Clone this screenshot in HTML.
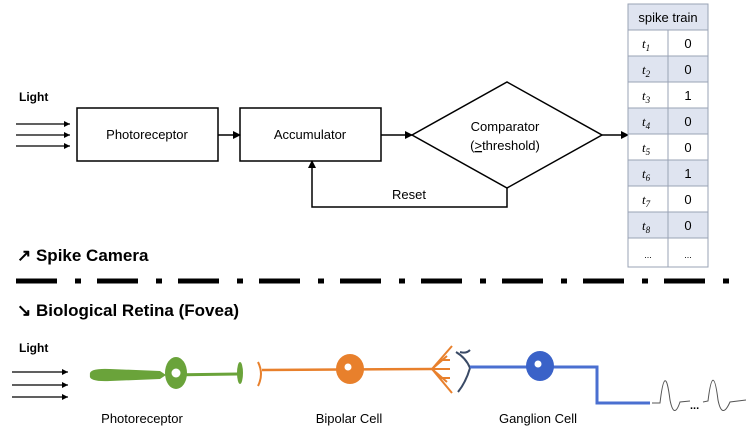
<!DOCTYPE html>
<html><head><meta charset="utf-8"><style>
body{margin:0;background:#fff;}
svg{display:block;font-family:"Liberation Sans",sans-serif;}
</style></head><body>
<svg width="746" height="439" viewBox="0 0 746 439" xmlns="http://www.w3.org/2000/svg">
<defs>
<marker id="a" markerWidth="8" markerHeight="8" refX="7" refY="4" orient="auto" markerUnits="userSpaceOnUse"><path d="M0,0 L8,4 L0,8z" fill="#000"/></marker>
<marker id="s" markerWidth="6" markerHeight="6" refX="6" refY="3" orient="auto" markerUnits="userSpaceOnUse"><path d="M0,0 L6,3 L0,6z" fill="#000"/></marker>
</defs>
<text x="19" y="101" font-size="12" font-weight="bold">Light</text>
<g stroke="#000" stroke-width="1.2" marker-end="url(#s)">
<line x1="16" y1="124" x2="70" y2="124"/><line x1="16" y1="135" x2="70" y2="135"/><line x1="16" y1="146" x2="70" y2="146"/>
</g>
<rect x="77" y="108" width="141" height="53" fill="none" stroke="#000" stroke-width="1.5"/>
<text x="147" y="139" font-size="13" text-anchor="middle">Photoreceptor</text>
<rect x="240" y="108" width="141" height="53" fill="none" stroke="#000" stroke-width="1.5"/>
<text x="310" y="139" font-size="13" text-anchor="middle">Accumulator</text>
<polygon points="412,135 507,82 602,135 507,188" fill="none" stroke="#000" stroke-width="1.5"/>
<text x="505" y="131" font-size="13" text-anchor="middle">Comparator</text>
<text x="505" y="150" font-size="13" text-anchor="middle">(<tspan text-decoration="underline">&gt;</tspan>threshold)</text>
<g stroke="#000" stroke-width="1.5" fill="none" marker-end="url(#a)">
<line x1="218" y1="135" x2="240" y2="135"/>
<line x1="381" y1="135" x2="412" y2="135"/>
<line x1="602" y1="135" x2="628" y2="135"/>
<polyline points="507,188 507,207 312,207 312,161"/>
</g>
<text x="409" y="199" font-size="13" text-anchor="middle">Reset</text>
<!-- table -->
<g stroke="#9aa3b5" stroke-width="1">
<rect x="628" y="4" width="80" height="263" fill="#fff"/>
<rect x="628" y="4" width="80" height="26" fill="#dfe4f0"/>
<rect x="628" y="56" width="80" height="26" fill="#dfe4f0"/>
<rect x="628" y="108" width="80" height="26" fill="#dfe4f0"/>
<rect x="628" y="160" width="80" height="26" fill="#dfe4f0"/>
<rect x="628" y="212" width="80" height="26" fill="#dfe4f0"/>
<line x1="628" y1="30" x2="708" y2="30"/><line x1="628" y1="82" x2="708" y2="82"/><line x1="628" y1="134" x2="708" y2="134"/><line x1="628" y1="186" x2="708" y2="186"/><line x1="628" y1="238" x2="708" y2="238"/>
<line x1="668" y1="30" x2="668" y2="267"/>
</g>
<text x="668" y="22" font-size="13" text-anchor="middle">spike train</text>
<g font-size="13" text-anchor="middle">
<text x="646" y="48" font-style="italic" font-family="Liberation Serif">t<tspan font-size="9" dy="3">1</tspan></text><text x="688" y="48">0</text>
<text x="646" y="74" font-style="italic" font-family="Liberation Serif">t<tspan font-size="9" dy="3">2</tspan></text><text x="688" y="74">0</text>
<text x="646" y="100" font-style="italic" font-family="Liberation Serif">t<tspan font-size="9" dy="3">3</tspan></text><text x="688" y="100">1</text>
<text x="646" y="126" font-style="italic" font-family="Liberation Serif">t<tspan font-size="9" dy="3">4</tspan></text><text x="688" y="126">0</text>
<text x="646" y="152" font-style="italic" font-family="Liberation Serif">t<tspan font-size="9" dy="3">5</tspan></text><text x="688" y="152">0</text>
<text x="646" y="178" font-style="italic" font-family="Liberation Serif">t<tspan font-size="9" dy="3">6</tspan></text><text x="688" y="178">1</text>
<text x="646" y="204" font-style="italic" font-family="Liberation Serif">t<tspan font-size="9" dy="3">7</tspan></text><text x="688" y="204">0</text>
<text x="646" y="230" font-style="italic" font-family="Liberation Serif">t<tspan font-size="9" dy="3">8</tspan></text><text x="688" y="230">0</text>
<text x="648" y="258" font-size="9">...</text><text x="688" y="258" font-size="9">...</text>
</g>
<text x="17" y="261" font-size="17" font-weight="bold">↗ Spike Camera</text>
<line x1="16" y1="281" x2="740" y2="281" stroke="#000" stroke-width="5" stroke-dasharray="41,18,6,16"/>
<text x="17" y="316" font-size="17" font-weight="bold">↘ Biological Retina (Fovea)</text>
<!-- retina -->
<text x="19" y="352" font-size="12" font-weight="bold">Light</text>
<g stroke="#000" stroke-width="1.2" marker-end="url(#s)">
<line x1="12" y1="372" x2="68" y2="372"/><line x1="12" y1="385" x2="68" y2="385"/><line x1="12" y1="397" x2="68" y2="397"/>
</g>
<path d="M90,375 Q88,368 110,369 L160,371 L166,375 L160,379 L110,381 Q88,382 90,375z" fill="#6aa33a"/>
<line x1="166" y1="375" x2="238" y2="374" stroke="#6aa33a" stroke-width="3"/>
<ellipse cx="176" cy="373" rx="11" ry="16" fill="#6aa33a"/><circle cx="176" cy="373" r="4.5" fill="#fff"/>
<ellipse cx="240" cy="373" rx="3" ry="11" fill="#6aa33a"/>
<path d="M258,362 Q264,374 258,386" stroke="#e8802c" stroke-width="2" fill="none"/>
<line x1="262" y1="370" x2="432" y2="369" stroke="#e8802c" stroke-width="2.5"/>
<ellipse cx="350" cy="369" rx="14" ry="15" fill="#e8802c"/><circle cx="348" cy="367" r="3.5" fill="#fff"/>
<g stroke="#e8802c" stroke-width="2" fill="none">
<path d="M432,369 L452,346 M432,369 L447,356 M432,369 L450,369 M432,369 L447,382 M432,369 L452,393 M440,360 L450,360 M440,378 L450,378"/>
</g>
<g stroke="#3a4a66" stroke-width="2" fill="none">
<path d="M456,352 Q466,358 470,368 Q466,382 458,392"/><path d="M460,352 Q466,354 470,350"/>
</g>
<polyline points="470,367 597,367 597,403 650,403" stroke="#4a6fd0" stroke-width="3" fill="none"/>
<ellipse cx="540" cy="366" rx="14" ry="15" fill="#3a62c8"/><circle cx="538" cy="364" r="3.5" fill="#fff"/>
<path d="M652,403 L660,403 Q665,360 670,400 Q674,420 680,402 L690,401" stroke="#555" stroke-width="1" fill="none"/>
<text x="690" y="409" font-size="11" font-weight="bold">...</text>
<path d="M703,402 L708,401 Q713,360 718,400 Q722,420 730,402 L746,400" stroke="#555" stroke-width="1" fill="none"/>
<text x="142" y="423" font-size="13" text-anchor="middle">Photoreceptor</text>
<text x="349" y="423" font-size="13" text-anchor="middle">Bipolar Cell</text>
<text x="538" y="423" font-size="13" text-anchor="middle">Ganglion Cell</text>
</svg>
</body></html>
